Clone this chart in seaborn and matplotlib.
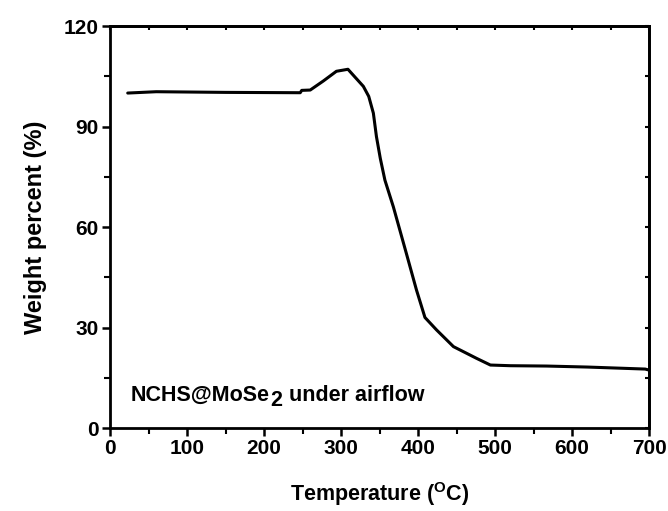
import matplotlib
matplotlib.use("Agg")
import matplotlib.pyplot as plt
import seaborn as sns
import pandas as pd
from matplotlib.ticker import MultipleLocator

temperature = [23, 60, 150, 247, 249, 260, 277, 294, 309, 318, 329, 336, 342, 346, 351, 357,
               368, 385, 398, 409, 424, 446, 476, 494, 520, 567, 620, 695, 700]
weight = [100.0, 100.4, 100.2, 100.1, 100.8, 100.9, 103.6, 106.5, 107.1, 104.8, 102.0, 99.0,
          94.0, 87.0, 80.5, 74.0, 66.0, 52.0, 41.2, 33.0, 29.3, 24.3, 20.8, 18.8, 18.6, 18.5,
          18.2, 17.6, 17.3]

xticks = [0, 100, 200, 300, 400, 500, 600, 700]
yticks = [0, 30, 60, 90, 120]

sns.set_style("ticks")
plt.rcParams['font.family'] = ['Liberation Sans', 'DejaVu Sans']
plt.rcParams['font.weight'] = 'bold'
plt.rcParams['mathtext.fontset'] = 'custom'
plt.rcParams['mathtext.rm'] = 'Liberation Sans:bold'
plt.rcParams['mathtext.it'] = 'Liberation Sans:bold'
plt.rcParams['mathtext.bf'] = 'Liberation Sans:bold'
for k in ['text.color', 'axes.labelcolor', 'xtick.color', 'ytick.color', 'axes.edgecolor']:
    plt.rcParams[k] = 'black'

df = pd.DataFrame({"T": temperature, "W": weight})

fig = plt.figure(figsize=(6.68, 5.11), dpi=100)
ax = fig.add_axes([0.1647, 0.1624, 0.9716 - 0.1647, 0.949 - 0.1624])
sns.lineplot(data=df, x="T", y="W", ax=ax, color="black", linewidth=2.2, sort=False)

ax.set_xlim(0, 700)
ax.set_ylim(0, 120)
ax.set_xticks(xticks)
ax.set_yticks(yticks)
ax.xaxis.set_minor_locator(MultipleLocator(50))
ax.yaxis.set_minor_locator(MultipleLocator(15))
ax.tick_params(axis='both', which='major', direction='out', length=6, width=1.8,
               labelsize=15, pad=2)
ax.tick_params(axis='both', which='minor', direction='out', length=4, width=1.5)
for lab in ax.get_xticklabels() + ax.get_yticklabels():
    lab.set_fontweight('bold')
for s in ax.spines.values():
    s.set_linewidth(2)
    s.set_visible(True)

# inward ticks on top and right, no labels
secx = ax.secondary_xaxis('top')
secx.set_xticks(xticks)
secx.xaxis.set_minor_locator(MultipleLocator(50))
secx.tick_params(which='both', direction='in', length=3, width=1.5, labeltop=False)
secx.spines['top'].set_linewidth(2)
secy = ax.secondary_yaxis('right')
secy.set_yticks(yticks)
secy.yaxis.set_minor_locator(MultipleLocator(15))
secy.tick_params(which='both', direction='in', length=3, width=1.5, labelright=False)
secy.spines['right'].set_linewidth(2)

ax.set_xlabel(r"Temperature ($^{\mathrm{O}}$C)", fontsize=15.5, fontweight='bold', labelpad=16)
ax.set_ylabel("Weight percent (%)", fontsize=17, fontweight='bold', labelpad=12)

fs = 15.5
t1 = ax.text(27, 6.5, "NCHS@MoSe", fontsize=fs, fontweight='bold', ha='left', va='bottom')
t2 = ax.annotate("2", xy=(1, 0), xycoords=t1, xytext=(0.5, -3.5), textcoords='offset points',
                 fontsize=fs, fontweight='bold', ha='left', va='bottom')
t3 = ax.annotate(" under airflow", xy=(1, 0), xycoords=t2, xytext=(0, 3.5),
                 textcoords='offset points', fontsize=fs, fontweight='bold', ha='left', va='bottom')

fig.savefig("out.png", dpi=100)
